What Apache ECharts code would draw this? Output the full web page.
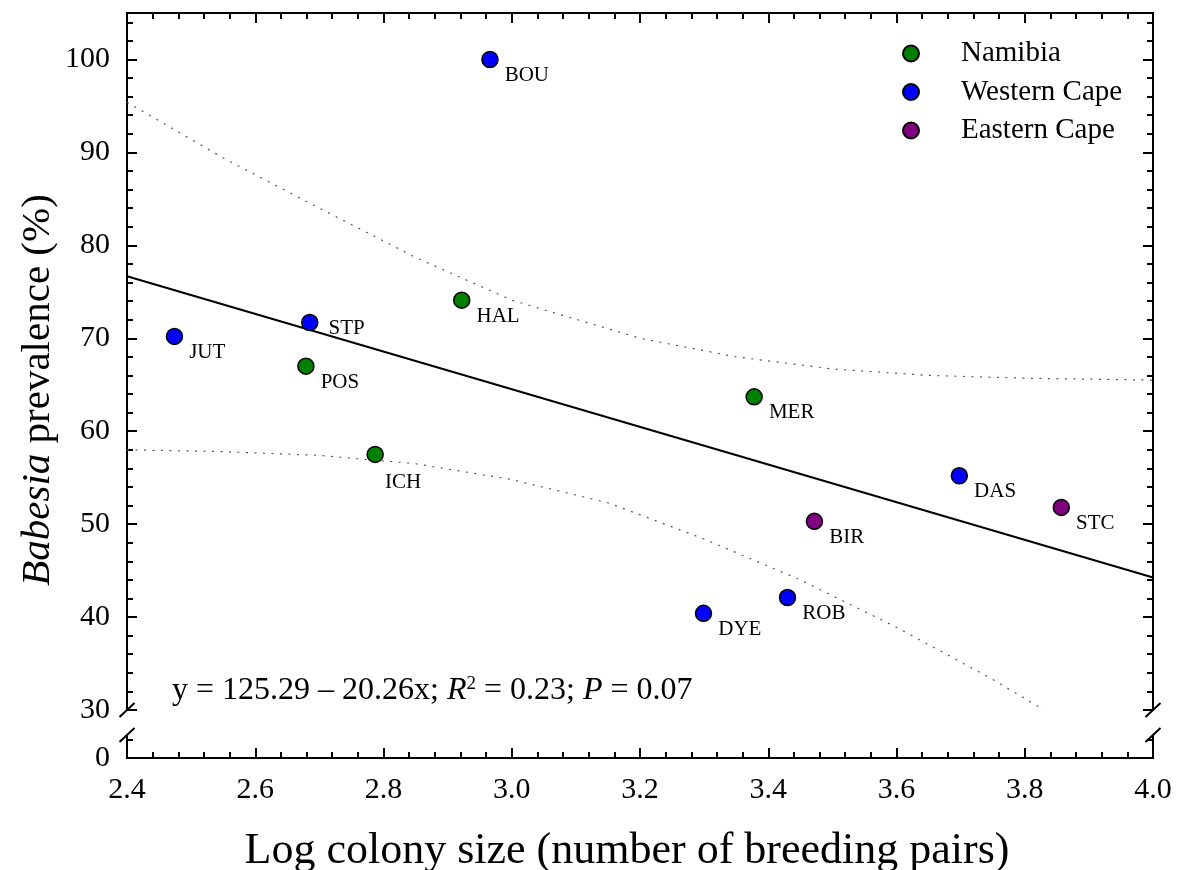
<!DOCTYPE html>
<html>
<head>
<meta charset="utf-8">
<script src="https://cdn.jsdelivr.net/npm/echarts@6/dist/echarts.min.js"></script>
<style>
html, body { margin: 0; padding: 0; background: #fff; }
#chart { width: 1180px; height: 870px; }
</style>
</head>
<body>
<div id="chart"></div>
<script>
// colonies: log10 colony size vs Babesia prevalence (%)
const sites      = ['BOU', 'HAL', 'STP', 'JUT', 'POS', 'ICH', 'MER', 'DAS', 'STC', 'BIR', 'ROB', 'DYE'];
const logSize    = [2.966, 2.922, 2.685, 2.474, 2.679, 2.787, 3.378, 3.698, 3.857, 3.472, 3.430, 3.299];
const prevalence = [100.0, 74.1, 71.7, 70.2, 67.0, 57.5, 63.7, 55.2, 51.8, 50.3, 42.1, 40.4];
const siteRegion = ['Western Cape', 'Namibia', 'Western Cape', 'Western Cape', 'Namibia', 'Namibia',
                    'Namibia', 'Western Cape', 'Eastern Cape', 'Eastern Cape', 'Western Cape', 'Western Cape'];
const regions = ['Namibia', 'Western Cape', 'Eastern Cape'];

// regression line end points and the dotted band
const fitX = [2.4, 4.0];
const fitY = [76.67, 44.25];
const upperX = [2.40, 2.55, 2.70, 2.85, 3.00, 3.20, 3.35, 3.50, 3.65, 3.80, 4.00];
const upperY = [95.4, 89.4, 84.0, 78.7, 74.1, 70.0, 68.0, 66.7, 66.0, 65.7, 65.5];
const lowerX = [2.40, 2.55, 2.70, 2.85, 3.00, 3.15, 3.30, 3.45, 3.60, 3.75, 3.83];
const lowerY = [58.0, 57.8, 57.4, 56.5, 54.8, 52.3, 48.4, 44.0, 38.9, 33.3, 30.0];

// tick labels
const yMajor = [30, 40, 50, 60, 70, 80, 90, 100];
const yMinor = [];
for (let v = 30; v <= 104; v += 2) yMinor.push(v);
const yLowTicks = [0, 2];
const yLowLabels = [0];

const FONT = 'Liberation Serif';
const regionColors = { 'Namibia': '#008000', 'Western Cape': '#0000ff', 'Eastern Cape': '#800080' };
const labelOffset = { STP: [10, 6], ICH: [1, 28] };

const zip = (xs, ys) => xs.map((x, i) => [x, ys[i]]);

function pointsFor(r) {
    const out = [];
    sites.forEach((s, i) => {
        if (siteRegion[i] !== r) return;
        out.push({
            name: s,
            value: [logSize[i], prevalence[i]],
            label: { offset: labelOffset[s] || [6, 16] }
        });
    });
    return out;
}

const black = { color: '#000', width: 2 };

function yAx(grid, pos, min, max, ticks, len, labels) {
    return {
        type: 'value', gridIndex: grid, position: pos, min: min, max: max,
        axisLine: { show: true, lineStyle: black },
        axisTick: { show: true, inside: true, length: len, lineStyle: black, customValues: ticks },
        axisLabel: labels ? {
            show: true, customValues: labels, margin: 17,
            color: '#000', fontFamily: FONT, fontSize: 30
        } : { show: false },
        splitLine: { show: false }
    };
}

function xAx(grid, pos, labels) {
    return {
        type: 'value', gridIndex: grid, position: pos, min: 2.4, max: 4.0, interval: 0.2,
        axisLine: { show: true, onZero: false, lineStyle: black },
        axisTick: { show: true, inside: true, length: 10, lineStyle: black },
        minorTick: { show: true, splitNumber: 5, length: 6, lineStyle: black },
        axisLabel: labels ? {
            show: true, margin: 17, color: '#000', fontFamily: FONT, fontSize: 30,
            formatter: v => v.toFixed(1)
        } : { show: false },
        splitLine: { show: false }
    };
}

const lineSeries = (name, data, style) => ({
    name: name, type: 'line', xAxisIndex: 0, yAxisIndex: 0,
    data: data, symbol: 'none', silent: true, clip: true, z: 1,
    lineStyle: style
});

const dotted = { color: '#555', width: 1.2, type: [2, 6.5] };

const option = {
    backgroundColor: '#fff',
    animation: false,
    grid: [
        { left: 127, right: 27, top: 13, bottom: 160, outerBoundsMode: 'none' },
        { left: 127, right: 27, top: 735, bottom: 112, outerBoundsMode: 'none' }
    ],
    xAxis: [xAx(0, 'top', false), xAx(1, 'bottom', true)],
    yAxis: [
        yAx(0, 'left', 30, 105, yMajor, 10, yMajor),
        yAx(0, 'left', 30, 105, yMinor, 6, null),
        yAx(0, 'right', 30, 105, yMajor, 10, null),
        yAx(0, 'right', 30, 105, yMinor, 6, null),
        yAx(1, 'left', 0, 2.5, yLowTicks, 6, yLowLabels),
        yAx(1, 'right', 0, 2.5, yLowTicks, 6, null)
    ],
    legend: {
        data: regions,
        orient: 'vertical',
        left: 897, top: 34,
        itemWidth: 90, itemHeight: 16, itemGap: 9.5,
        symbolKeepAspect: true,
        textStyle: { color: '#000', fontFamily: FONT, fontSize: 29, lineHeight: 28 }
    },
    series: [
        lineSeries('upper', zip(upperX, upperY), dotted),
        lineSeries('lower', zip(lowerX, lowerY), dotted),
        lineSeries('fit', zip(fitX, fitY), { color: '#000', width: 2 })
    ].concat(regions.map(r => ({
        name: r, type: 'scatter', xAxisIndex: 0, yAxisIndex: 0, z: 5,
        symbol: 'circle', symbolSize: 16,
        itemStyle: { color: regionColors[r], borderColor: '#000', borderWidth: 1.5, opacity: 1 },
        label: {
            show: true, position: 'right', distance: 0,
            formatter: p => p.name,
            color: '#000', fontFamily: FONT, fontSize: 21
        },
        data: pointsFor(r)
    })))
};

const chart = echarts.init(document.getElementById('chart'));
chart.setOption(option);

// axis break marks and titles
const xl = chart.convertToPixel({ xAxisIndex: 0 }, 2.4);
const xr = chart.convertToPixel({ xAxisIndex: 0 }, 4.0);
const yUp = chart.convertToPixel({ yAxisIndex: 0 }, 30);
const yLo = chart.convertToPixel({ yAxisIndex: 4 }, 2.5);
const slash = (x, y) => ({
    type: 'line', z: 100,
    shape: { x1: x - 7.5, y1: y + 7, x2: x + 7.5, y2: y - 7 },
    style: { stroke: '#000', lineWidth: 2 }
});

chart.setOption({
    graphic: [
        slash(xl, yUp), slash(xl, yLo), slash(xr, yUp), slash(xr, yLo),
        {
            type: 'text', x: 627, y: 851, z: 100,
            style: {
                text: 'Log colony size (number of breeding pairs)',
                fontFamily: FONT, fontSize: 44, fill: '#000',
                align: 'center', verticalAlign: 'middle'
            }
        },
        {
            type: 'text', x: 38, y: 390, rotation: Math.PI / 2, z: 100,
            style: {
                text: '{i|Babesia} prevalence (%)',
                fontFamily: FONT, fontSize: 41, fill: '#000',
                align: 'center', verticalAlign: 'middle',
                rich: { i: { fontStyle: 'italic', fontFamily: FONT, fontSize: 41 } }
            }
        },
        {
            type: 'text', x: 172, y: 691, z: 100,
            style: {
                text: 'y = 125.29 \u2013 20.26x; {i|R}{sup|2} = 0.23; {i|P} = 0.07',
                fontFamily: FONT, fontSize: 32, fill: '#000',
                align: 'left', verticalAlign: 'middle',
                rich: {
                    i: { fontStyle: 'italic', fontFamily: FONT, fontSize: 32 },
                    sup: { fontFamily: FONT, fontSize: 19, lineHeight: 19, verticalAlign: 'top' }
                }
            }
        }
    ]
});
</script>
</body>
</html>
